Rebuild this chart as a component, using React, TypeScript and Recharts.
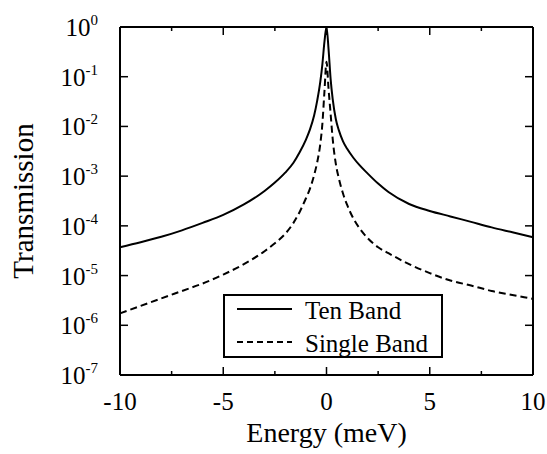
import { LineChart, Line, XAxis, YAxis, Legend, ReferenceLine } from 'recharts';

// energy (meV) sample points
const energy = [
  -10, -9, -8, -7, -6, -5, -4, -3, -2.5, -2, -1.6, -1.3, -1, -0.8, -0.6, -0.45, -0.3, -0.2, -0.1, 0,
  0.1, 0.2, 0.3, 0.45, 0.6, 0.8, 1, 1.3, 1.6, 2, 2.5, 3, 4, 5, 6, 7, 8, 9, 10,
];

// log10 of transmission, ten band model (solid)
const tenBandLog = [
  -4.43, -4.33, -4.22, -4.09, -3.94, -3.78, -3.57, -3.3, -3.13, -2.93, -2.73, -2.52, -2.27, -2.06, -1.78, -1.48, -1.1, -0.75, -0.3, 0,
  -0.45, -1.05, -1.45, -1.85, -2.08, -2.3, -2.45, -2.63, -2.78, -2.95, -3.15, -3.32, -3.56, -3.7, -3.81, -3.92, -4.03, -4.13, -4.23,
];

// log10 of transmission, single band model (dashed)
const singleBandLog = [
  -5.76, -5.61, -5.46, -5.31, -5.16, -4.98, -4.77, -4.51, -4.35, -4.16, -3.94, -3.72, -3.45, -3.25, -2.98, -2.72, -2.35, -1.95, -1.3, -0.7,
  -1.25, -1.75, -2.25, -2.75, -3.05, -3.35, -3.58, -3.85, -4.05, -4.25, -4.43, -4.55, -4.77, -4.95, -5.1, -5.2, -5.31, -5.39, -5.47,
];

const xTicks = [-10, -7.5, -5, -2.5, 0, 2.5, 5, 7.5, 10];
const xLabels = [-10, -5, 0, 5, 10];
const yTicks = [1e-7, 1e-6, 1e-5, 1e-4, 1e-3, 1e-2, 1e-1, 1];
const legendOrder = ['Ten Band', 'Single Band'];

const data = energy.map((e, i) => ({
  energy: e,
  ten: Math.pow(10, tenBandLog[i]),
  single: Math.pow(10, singleBandLog[i]),
}));

const FONT = "'Liberation Serif', 'Times New Roman', serif";

// chart layout
const W = 547;
const H = 454;
const M = { top: 27, right: 14, left: 0, bottom: 0 };
const Y_AXIS_W = 120;
const X_AXIS_H = 79;
const PLOT_W = W - M.left - M.right - Y_AXIS_W;
const PLOT_H = H - M.top - M.bottom - X_AXIS_H;

// bottom ticks + labels, with the matching inward ticks on the top frame
const BottomTick = (props: any) => {
  const { x, y, payload } = props;
  const major = xLabels.includes(payload.value);
  const len = major ? 8 : 4;
  const top = y - PLOT_H;
  return (
    <g>
      <line x1={x} x2={x} y1={y} y2={y - len} stroke="#000" strokeWidth={1.5} />
      <line x1={x} x2={x} y1={top} y2={top + len} stroke="#000" strokeWidth={1.5} />
      {major && (
        <text x={x} y={y + 35} textAnchor="middle" style={{ fontFamily: FONT, fontSize: 25 }} fill="#000">
          {payload.value}
        </text>
      )}
    </g>
  );
};

// left ticks + 10^n labels, with the matching inward ticks on the right frame
const LeftTick = (props: any) => {
  const { x, y, payload } = props;
  const exp = Math.round(Math.log10(payload.value));
  const right = x + PLOT_W;
  return (
    <g>
      <line x1={x} x2={x + 8} y1={y} y2={y} stroke="#000" strokeWidth={1.5} />
      <line x1={right} x2={right - 8} y1={y} y2={y} stroke="#000" strokeWidth={1.5} />
      <text x={x - 22} y={y + 9} textAnchor="end" style={{ fontFamily: FONT, fontSize: 25 }} fill="#000">
        10
        <tspan dy={-11} style={{ fontSize: 15 }}>
          {exp}
        </tspan>
      </text>
    </g>
  );
};

const XTitle = (props: any) => {
  const { viewBox } = props;
  if (!viewBox) return null;
  return (
    <text
      x={viewBox.x + viewBox.width / 2}
      y={viewBox.y + 67}
      textAnchor="middle"
      style={{ fontFamily: FONT, fontSize: 28 }}
      fill="#000"
    >
      Energy (meV)
    </text>
  );
};

const YTitle = (props: any) => {
  const { viewBox } = props;
  if (!viewBox) return null;
  const cx = viewBox.x + 33;
  const cy = viewBox.y + viewBox.height / 2;
  return (
    <text
      x={cx}
      y={cy}
      transform={`rotate(-90, ${cx}, ${cy})`}
      textAnchor="middle"
      style={{ fontFamily: FONT, fontSize: 29 }}
      fill="#000"
    >
      Transmission
    </text>
  );
};

const renderLegend = (props: any) => {
  const items = [...(props.payload || [])].sort(
    (a: any, b: any) => legendOrder.indexOf(a.value) - legendOrder.indexOf(b.value)
  );
  return (
    <div style={{ width: 220, height: 64, border: '2px solid #000', boxSizing: 'border-box', background: '#fff' }}>
      <svg width={216} height={60} style={{ display: 'block' }}>
        {items.map((entry: any, i: number) => (
          <g key={entry.value} transform={`translate(0, ${i * 33})`}>
            <line
              x1={12}
              x2={67}
              y1={13}
              y2={13}
              stroke="#000"
              strokeWidth={2}
              strokeDasharray={entry.value === 'Single Band' ? '6 4' : undefined}
            />
            <text x={80} y={23} style={{ fontFamily: FONT, fontSize: 25 }} fill="#000">
              {entry.value}
            </text>
          </g>
        ))}
      </svg>
    </div>
  );
};

export default function App() {
  return (
    <div style={{ position: 'absolute', left: 0, top: 0, background: '#fff', fontFamily: FONT }}>
      <LineChart width={W} height={H} data={data} margin={M}>
        <XAxis
          dataKey="energy"
          type="number"
          domain={[-10, 10]}
          ticks={xTicks}
          interval={0}
          height={X_AXIS_H}
          tickSize={0}
          tickMargin={0}
          tickLine={false}
          axisLine={{ stroke: '#000', strokeWidth: 2 }}
          tick={<BottomTick />}
          label={<XTitle />}
        />
        <YAxis
          scale="log"
          domain={[1e-7, 1]}
          ticks={yTicks}
          interval={0}
          allowDataOverflow
          width={Y_AXIS_W}
          tickSize={0}
          tickMargin={0}
          tickLine={false}
          axisLine={{ stroke: '#000', strokeWidth: 2 }}
          tick={<LeftTick />}
          label={<YTitle />}
        />
        {/* top and right frame */}
        <ReferenceLine y={1} stroke="#000" strokeWidth={2} ifOverflow="visible" />
        <ReferenceLine x={10} stroke="#000" strokeWidth={2} ifOverflow="visible" />
        <Legend
          layout="vertical"
          align="center"
          verticalAlign="middle"
          content={renderLegend}
          wrapperStyle={{ left: 223, top: 294, width: 220, height: 64 }}
        />
        <Line
          name="Ten Band"
          dataKey="ten"
          type="monotone"
          stroke="#000"
          strokeWidth={2}
          dot={false}
          isAnimationActive={false}
        />
        <Line
          name="Single Band"
          dataKey="single"
          type="monotone"
          stroke="#000"
          strokeWidth={2}
          strokeDasharray="7 4"
          dot={false}
          isAnimationActive={false}
        />
      </LineChart>
    </div>
  );
}
